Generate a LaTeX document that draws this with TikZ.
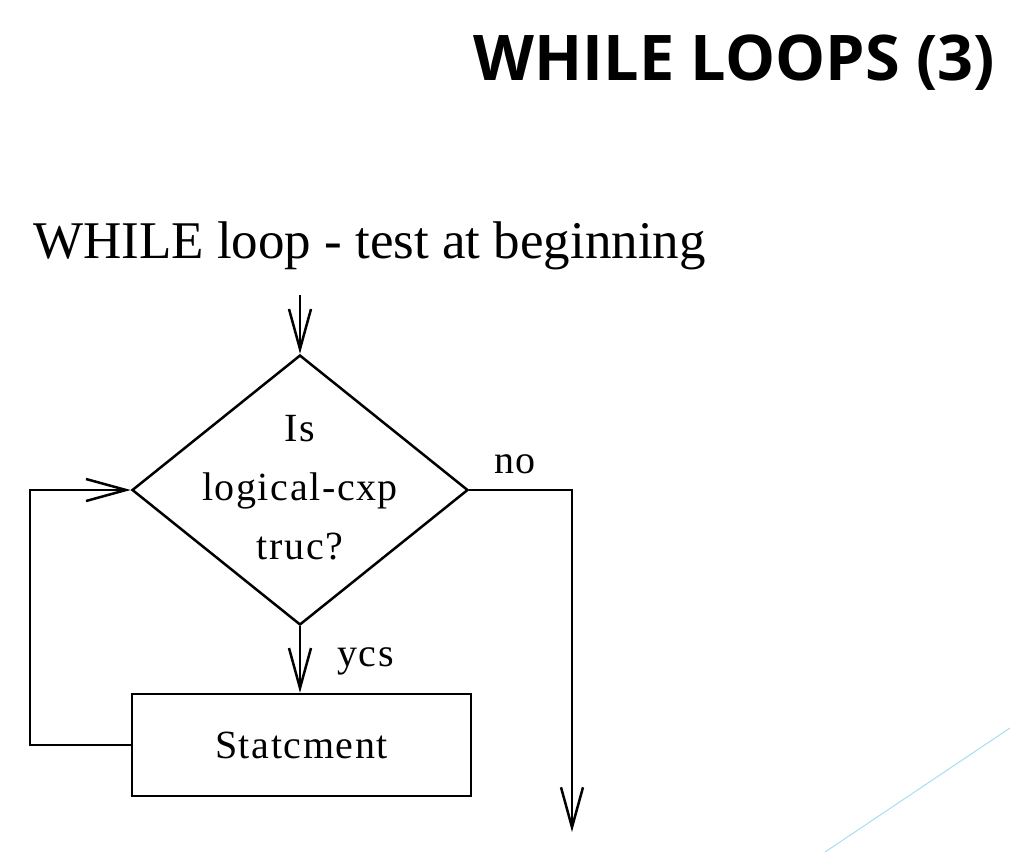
\documentclass[tikz,border=0pt]{standalone}
\usepackage{fontspec}
\setmainfont{Liberation Serif}
\newfontfamily\titlefont{Open Sans}
\newfontfamily\spacedfont[LetterSpace=4]{Liberation Serif}
\usetikzlibrary{arrows.meta,shapes.geometric}
\definecolor{deco}{RGB}{165,222,242}
\tikzset{
  flow/.style={line width=2.5pt, draw=black},
  arr/.style={flow, -{Straight Barb[length=40pt,width=22pt,line width=2.5pt]}},
  lbl/.style={font=\spacedfont\fontsize{40}{59}\selectfont, inner sep=0pt},
}
\begin{document}
\begin{tikzpicture}[x=1pt,y=-1pt]
\useasboundingbox (0,0) rectangle (1010,852);
\node[anchor=base east, inner sep=0pt, font=\titlefont\bfseries\fontsize{63}{70}\selectfont] (title) at (995,80) {WHILE LOOPS (3)};
\node[anchor=base west, inner sep=0pt, font=\fontsize{53}{60}\selectfont] (sub) at (33,258) {WHILE loop - test at beginning};
\node[diamond, flow, minimum width=336pt, minimum height=270pt, inner sep=0pt] (test) at (300,490) {};
\node[lbl, align=center] (testtext) at (300,488) {Is\\logical-cxp\\truc?};
\node[flow, rectangle, minimum width=339pt, minimum height=102pt, inner sep=0pt] (stmt) at (301.5,745) {};
\node[lbl] (stmttext) at (stmt.center) {Statcment};
\coordinate (start) at (300,295);
\coordinate (nocorner) at (572,490);
\coordinate (noend) at (572,832);
\coordinate (loopcorner) at (30,745);
\draw[arr] (start) -- (test.north);
\draw[arr] (test.south) -- (test.south |- stmt.north);
\node[lbl, anchor=base west] (yes) at (337,666) {ycs};
\draw[arr] (test.east) -- (nocorner) -- (noend);
\node[lbl, anchor=base] (no) at (515,473) {no};
\draw[arr] (stmt.west) -- (loopcorner) |- (test.west);
\draw[deco, line width=1pt] (825,852) -- (1010,728);
\end{tikzpicture}
\end{document}
